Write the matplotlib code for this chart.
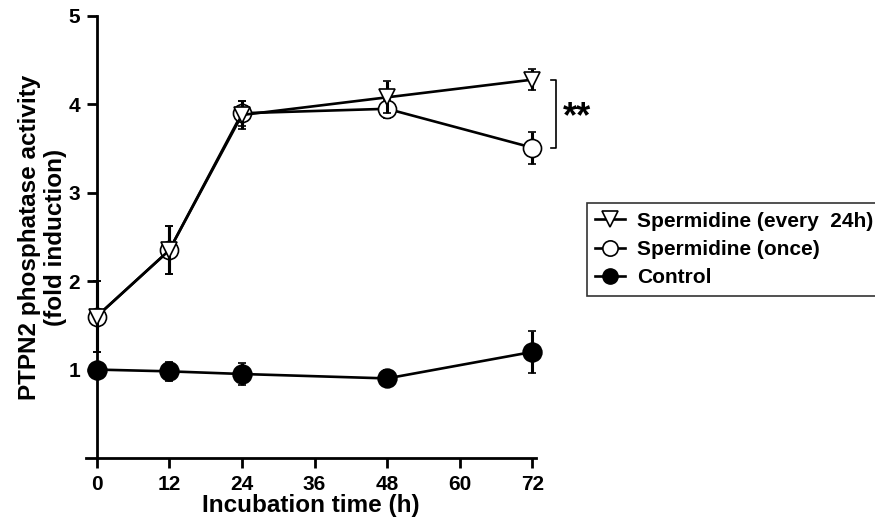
import matplotlib
matplotlib.use('Agg')
import matplotlib.pyplot as plt
from matplotlib.lines import Line2D

plt.rcParams['font.family'] = ['Liberation Sans', 'DejaVu Sans']
plt.rcParams['font.weight'] = 'bold'

# data
hours = [0, 12, 24, 48, 72]
every24 = [1.60, 2.35, 3.88, 4.08, 4.28]
every24_err = [0.40, 0.27, 0.16, 0.18, 0.12]
once = [1.60, 2.35, 3.90, 3.95, 3.51]
once_err = [0.40, 0.27, 0.14, 0.10, 0.18]
control = [1.00, 0.98, 0.95, 0.90, 1.20]
control_err = [0.08, 0.11, 0.13, 0.09, 0.24]
xticks = [0, 12, 24, 36, 48, 60, 72]
yticks = [1, 2, 3, 4, 5]
names = ['Spermidine (every  24h)', 'Spermidine (once)', 'Control']

fig = plt.figure(figsize=(8.75, 5.24), dpi=100)
ax = fig.add_axes([0.098, 0.126, 0.514, 0.8435])

lw = 1.9
common = dict(color='black', lw=lw, elinewidth=2.2, capsize=3, capthick=2.2)

series = [
    (control, control_err, 'o', 13.5, 'black', 3),
    (once, once_err, 'o', 13, 'white', 4),
    (every24, every24_err, 'v', 12, 'white', 5),
]
for vals, err, mk, ms, fc, z in series:
    eb = ax.errorbar(hours, vals, yerr=err, fmt='-' + mk, ms=ms, mfc=fc,
                     mec='black', mew=1.2, zorder=z, **common)
    for art in eb.lines[1] + eb.lines[2]:
        art.set_clip_on(False)
    eb.lines[0].set_clip_on(False)

ax.set_xlim(-1.8, 72.5)
ax.set_ylim(0, 5)
ax.spines['top'].set_visible(False)
ax.spines['right'].set_visible(False)
ax.spines['left'].set_position(('data', 0))
for s in ['left', 'bottom']:
    ax.spines[s].set_linewidth(2)
ax.set_xticks(xticks)
ax.set_yticks(yticks)
ax.tick_params(direction='out', length=7, width=2, labelsize=15, pad=5)
for lab in ax.get_xticklabels() + ax.get_yticklabels():
    lab.set_fontweight('bold')

ax.set_xlabel('Incubation time (h)', fontsize=17.5, fontweight='bold', labelpad=0)
ax.set_ylabel('PTPN2 phosphatase activity\n(fold induction)', fontsize=17.5,
              fontweight='bold', linespacing=1.2)
ax.yaxis.set_label_coords(-0.041, 0.5)

# significance bracket
bx, bx0 = 75.9, 75.1
ax.plot([bx0, bx, bx, bx0], [every24[-1], every24[-1], once[-1], once[-1]],
        color='black', lw=1.2, clip_on=False)
ax.text(77.0, (every24[-1] + once[-1]) / 2 - 0.05, '**', fontsize=26, fontweight='bold',
        va='center', ha='left', clip_on=False)

handles = [
    Line2D([], [], color='black', lw=lw, marker='v', ms=11, mfc='white', mec='black', mew=1.2),
    Line2D([], [], color='black', lw=lw, marker='o', ms=11, mfc='white', mec='black', mew=1.2),
    Line2D([], [], color='black', lw=lw, marker='o', ms=11, mfc='black', mec='black'),
]
leg = fig.legend(handles, names, loc='upper left',
                 bbox_to_anchor=(0.659, 0.632), frameon=True,
                 fancybox=False, edgecolor='black', handlelength=1.4,
                 handletextpad=0.6, borderpad=0.4, labelspacing=0.45,
                 prop={'weight': 'bold', 'size': 15})
leg.get_frame().set_linewidth(1.2)

fig.savefig('out.png', dpi=100)
